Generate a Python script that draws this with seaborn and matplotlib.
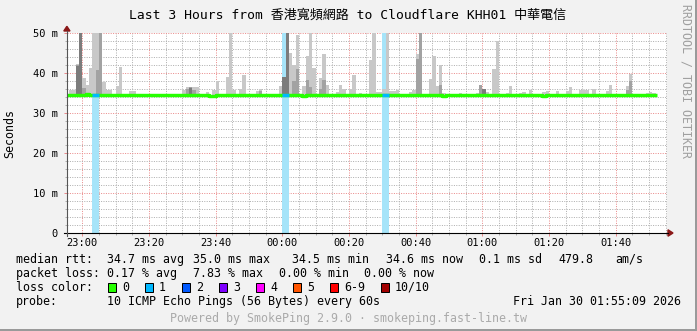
import numpy as np
import pandas as pd
import matplotlib
matplotlib.use("Agg")
import matplotlib.pyplot as plt
from matplotlib.patches import Rectangle, Polygon
from matplotlib.ticker import FixedLocator, MultipleLocator
import seaborn as sns

# ---------------- data ----------------
title_text = "Last 3 Hours from 香港寬頻網路 to Cloudflare KHH01 中華電信"
y_ticks = [0, 10, 20, 30, 40, 50]
y_tick_labels = ["0", "10 m", "20 m", "30 m", "40 m", "50 m"]
x_ticks = [0, 20, 40, 60, 80, 100, 120, 140, 160]          # minutes after 23:00
x_tick_labels = ["23:00", "23:20", "23:40", "00:00", "00:20",
                 "00:40", "01:00", "01:20", "01:40"]

# smoke: per-minute sample (minutes after 23:00), highest ping, 2nd, 3rd highest (ms)
N = np.nan
spike_min = [-4, -3, -2, -1, 0, 1, 2, 3, 4, 5, 6, 7, 8, 10, 11, 14, 15,
             30, 31, 32, 33, 34, 37, 39, 40, 43, 44, 45, 47, 48, 52, 53, 59,
             60, 61, 62, 63, 64, 66, 67, 68, 69, 71, 72, 73, 76, 77, 78, 80, 81, 83,
             86, 87, 88, 89, 90, 91, 92, 93, 94, 98, 99, 100, 101, 104, 105, 106,
             107, 108, 113, 118, 119, 120, 121, 123, 124, 127, 128, 131, 132, 134,
             138, 139, 142, 145, 146, 149, 150, 151, 153, 157, 158, 163, 164,
             169, 170, 171]
ping_max = [35.8, 35.8, 42.2, 52, 38.7, 37.0, 41.3, 52, 52, 52, 37.8, 35.7, 35.7, 36.8, 41.6, 35.5, 35.5,
            35.7, 36.6, 36.6, 36.6, 36.6, 35.2, 35.7, 37.9, 39.0, 52, 35.7, 35.9, 39.5, 35.5, 35.9, 36.7,
            39.0, 52, 45.0, 42.0, 49.5, 36.7, 44.3, 52, 41.3, 38.8, 44.8, 37.0, 35.3, 37.0, 35.9, 35.9, 39.5, 35.0,
            43.3, 52, 35.3, 35.3, 35.9, 52, 35.5, 35.5, 35.7, 35.3, 35.7, 44.7, 52, 38.5, 44.3, 36.7,
            42.0, 35.0, 34.9, 35.0, 36.9, 36.0, 35.3, 41.0, 48.0, 35.0, 36.7, 34.9, 35.2, 35.7,
            35.2, 35.5, 35.5, 35.5, 36.4, 35.7, 35.7, 35.8, 36.1, 35.5, 37.0, 36.7, 39.7,
            35.0, 35.2, 35.0]
ping_2nd = [N, N, 42.0, 52, 36.2, N, N, N, 40.8, 52, N, N, N, N, N, N, N,
            N, 36.0, 36.6, 35.8, N, N, N, N, N, N, N, N, N, N, 35.5, N,
            39.0, 52, N, 38.0, 41.0, N, 38.3, 36.6, N, 36.0, 38.3, N, N, N, N, N, N, N,
            N, N, N, N, N, N, N, N, N, N, N, 43.5, 52, N, N, N,
            36.9, N, N, N, 36.9, 36.0, N, N, N, N, N, N, N, N,
            N, N, N, N, N, N, N, N, N, N, N, 35.8, 38.0,
            N, N, N]
ping_3rd = [N, N, 41.8, 52, N, N, N, N, N, N, N, N, N, N, N, N, N,
            N, N, 36.2, N, N, N, N, N, N, N, N, N, N, N, N, N,
            39.0, 52, N, N, N, N, N, N, N, N, N, N, N, N, N, N, N, N,
            N, N, N, N, N, N, N, N, N, N, N, N, N, N, N, N,
            N, N, N, N, N, 36.0, N, N, N, N, N, N, N, N,
            N, N, N, N, N, N, N, N, N, N, N, N, N,
            N, N, N]

# median rtt (step breakpoints, minutes after 23:00)
median_t = [-5, 1, 2, 38, 40, 66, 67, 108, 109, 138, 139, 172.5]
median_v = [34.6, 34.8, 34.6, 34.35, 34.6, 34.35, 34.6, 34.35, 34.6, 34.35, 34.6, 34.6]

# loss events (1/10 lost)
loss_start = [3, 60, 90]
loss_len = [2, 2, 2]

legend_colors = ["#26ff00", "#00b8ff", "#0059ff", "#7e00ff", "#ff00ff", "#ff5500", "#ff0000", "#a10000"]
legend_labels = ["0", "1", "2", "3", "4", "5", "6-9", "10/10"]

# ---------------- figure ----------------
W, H, DPI = 697, 331, 100
MONO = ["DejaVu Sans Mono", "Noto Sans CJK TC"]
plt.rcParams["font.family"] = MONO

fig = plt.figure(figsize=(W / DPI, H / DPI), dpi=DPI, facecolor="#f2f2f2")

def fx(x):
    return x / W

def fy(y):
    return 1 - y / H

ax = fig.add_axes([fx(67), fy(233), 600 / W, 200 / H])
ax.set_facecolor("white")
ax.set_xlim(-4.6, 175.4)
ax.set_ylim(0, 50)
for s in ax.spines.values():
    s.set_visible(False)

# grid
ax.xaxis.set_major_locator(FixedLocator(x_ticks))
ax.xaxis.set_minor_locator(MultipleLocator(5))
ax.yaxis.set_major_locator(FixedLocator(y_ticks))
ax.yaxis.set_minor_locator(MultipleLocator(2))
ax.grid(which="minor", color="#b0b0b0", linestyle=(0, (1, 1.4)), linewidth=0.72)
ax.grid(which="major", color="#ea8c8c", linestyle=(0, (1, 1.4)), linewidth=0.72)
ax.set_axisbelow(True)

# loss bars
for s0, ln in zip(loss_start, loss_len):
    ax.axvspan(s0, s0 + ln, color="#a6e4f9", lw=0, zorder=1)

# smoke
base = 34.3
smk = pd.DataFrame({"t": spike_min, "p1": ping_max, "p2": ping_2nd, "p3": ping_3rd})
for col, colr in [("p1", "#c8c8c8"), ("p2", "#a2a2a2"), ("p3", "#7c7c7c")]:
    d = smk.dropna(subset=[col])
    ax.bar(d["t"], d[col] - base, bottom=base, width=1.0, align="edge",
           color=colr, linewidth=0, zorder=2)

# median line
med = pd.DataFrame({"t": median_t, "v": median_v})
sns.lineplot(data=med, x="t", y="v", ax=ax, color="#26ff00", linewidth=2.45,
             drawstyle="steps-post", estimator=None, zorder=3, solid_capstyle="butt")
for s0, ln in zip(loss_start, loss_len):
    seg = pd.DataFrame({"t": [s0, s0 + ln], "v": [34.6, 34.6]})
    sns.lineplot(data=seg, x="t", y="v", ax=ax, color="#00b8ff", linewidth=2.45,
                 estimator=None, zorder=4, solid_capstyle="butt")
ax.set_xlabel("")
ax.set_ylabel("")

# ticks
ax.set_xticklabels(x_tick_labels)
ax.set_yticklabels(y_tick_labels)
ax.tick_params(axis="both", which="major", labelsize=7.5, length=2.2, width=0.72,
               color="#ea8c8c", labelcolor="black")
ax.tick_params(axis="both", which="minor", length=1.5, width=0.72, color="#b0b0b0")
ax.tick_params(axis="x", which="major", pad=1.5)
ax.tick_params(axis="y", which="major", pad=4.2)

# axis lines and arrows (figure pixel coords)
fig.add_artist(plt.Line2D([fx(64), fx(668)], [fy(233), fy(233)], color="black", lw=0.8))
fig.add_artist(plt.Line2D([fx(66.8), fx(66.8)], [fy(236), fy(31)], color="#555555", lw=0.8))
fig.add_artist(Polygon([[fx(63.8), fy(31)], [fx(70), fy(31)], [fx(66.9), fy(26.3)]],
                       closed=True, color="#8b1818", transform=fig.transFigure))
fig.add_artist(Polygon([[fx(668), fy(229.8)], [fx(668), fy(236.2)], [fx(673), fy(233)]],
                       closed=True, color="#8b1818", transform=fig.transFigure))

# title, unit label, watermark
fig.text(fx(347.5), fy(15), title_text, ha="center", va="center", fontsize=9.4, family=MONO)
fig.text(fx(10), fy(133), "Seconds", ha="center", va="center", rotation=90, fontsize=8.4)
fig.text(fx(686), fy(81.5), "RRDTOOL / TOBI OETIKER", ha="center", va="center",
         rotation=270, fontsize=8.4, color="#a0a0a0")

# legend
LF = 8.4
rows = [
    (259.5, [("median rtt:", 16), ("34.7 ms avg", 107), ("35.0 ms max", 193), ("34.5 ms min", 292),
             ("34.6 ms now", 386), ("0.1 ms sd", 479), ("479.8", 558), ("am/s", 615)]),
    (273.5, [("packet loss:", 16), ("0.17 % avg", 107), ("7.83 % max", 193), ("0.00 % min", 279),
             ("0.00 % now", 364)]),
    (287.5, [("loss color:", 16)]),
    (301.5, [("probe:", 16), ("10 ICMP Echo Pings (56 Bytes) every 60s", 107),
             ("Fri Jan 30 01:55:09 2026", 513)]),
]
for yy, items in rows:
    for txt, xx in items:
        fig.text(fx(xx), fy(yy), txt, ha="left", va="center", fontsize=LF)

box_x = [108, 145, 182, 219, 256, 293, 330, 381]
for bx, c, lab in zip(box_x, legend_colors, legend_labels):
    fig.add_artist(Rectangle((fx(bx), fy(291.5)), 8.4 / W, 8.4 / H, facecolor=c,
                             edgecolor="black", lw=0.72, transform=fig.transFigure))
    fig.text(fx(bx + 14), fy(287.5), lab, ha="left", va="center", fontsize=LF)

fig.text(fx(348.5), fy(318.5), "Powered by SmokePing 2.9.0 · smokeping.fast-line.tw",
         ha="center", va="center", fontsize=LF, color="#aaaaaa")

# 3D border
fig.add_artist(Rectangle((fx(694.5), 0), 2.5 / W, 1, color="#9a9a9a", lw=0, transform=fig.transFigure))
fig.add_artist(Rectangle((0, 0), 1, 2.5 / H, color="#9a9a9a", lw=0, transform=fig.transFigure))

fig.savefig("out.png", dpi=DPI, facecolor=fig.get_facecolor())
